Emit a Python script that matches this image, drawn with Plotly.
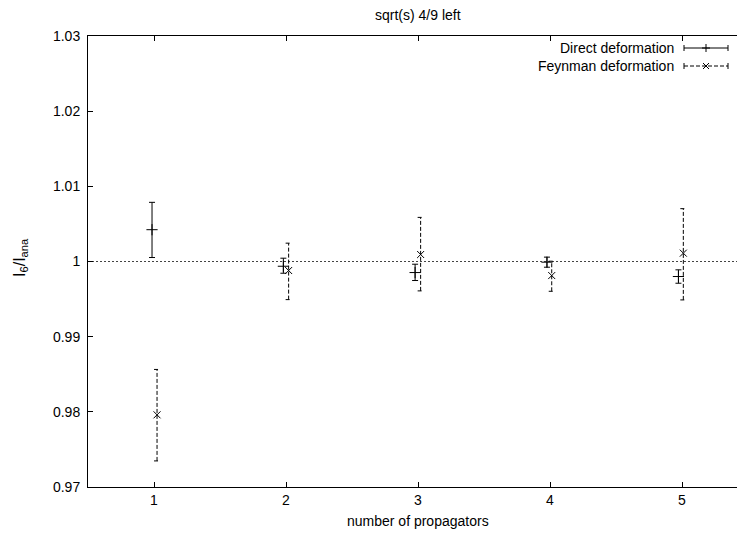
import plotly.graph_objects as go

# ---- data ----
props = [1, 2, 3, 4, 5]
direct_x = [0.985, 1.98, 2.978, 3.977, 4.973]
direct_y = [1.00423, 0.99937, 0.99853, 0.99991, 0.99800]
direct_lo = [1.00053, 0.99844, 0.99747, 0.99924, 0.99711]
direct_hi = [1.00787, 1.00044, 0.99964, 1.00058, 0.99889]

feyn_x = [1.023, 2.02, 3.02, 4.013, 5.01]
feyn_y = [0.97960, 0.99880, 1.00093, 0.99813, 1.00111]
feyn_lo = [0.97347, 0.99493, 0.99609, 0.99604, 0.99489]
feyn_hi = [0.98564, 1.00244, 1.00587, 1.00004, 1.00703]

ytick_vals = [0.97, 0.98, 0.99, 1.0, 1.01, 1.02, 1.03]
ytick_text = ["0.97", "0.98", "0.99", "1", "1.01", "1.02", "1.03"]
xtick_vals = [1, 2, 3, 4, 5]
xtick_text = ["1", "2", "3", "4", "5"]

title = "sqrt(s) 4/9 left"
xlabel = "number of propagators"
ylabel = "I<sub>6</sub>/I<sub>ana</sub>"
names = ["Direct deformation", "Feynman deformation"]

# ---- layout geometry (pixels) ----
W, H = 737, 536
L, R, T, B = 88, 0, 36, 49
pw, ph = W - L - R, H - T - B
px_per_x = 132.0
xr = [0.5, 0.5 + pw / px_per_x]
yr = [0.97, 1.03]
FONT = "Liberation Sans, Arial, sans-serif"
FS = 14
DASH = "4px,2px"

def pxx(p):
    return (p - L) / pw

def pxy(p):
    return (H - B - p) / ph

fig = go.Figure()

# reference line y = 1
fig.add_trace(go.Scatter(x=xr, y=[1, 1], mode="lines",
                         line=dict(color="#444444", width=1, dash="2px,2px"),
                         showlegend=False, hoverinfo="skip"))

# direct deformation: solid error bars with caps
fig.add_trace(go.Scatter(
    x=direct_x, y=direct_y, mode="markers",
    marker=dict(symbol="cross-thin", size=8, line=dict(color="black", width=1)),
    error_y=dict(type="data", symmetric=False,
                 array=[h - y for h, y in zip(direct_hi, direct_y)],
                 arrayminus=[y - l for l, y in zip(direct_lo, direct_y)],
                 color="black", thickness=1, width=3),
    showlegend=False))

# feynman deformation: dashed error bars
cap = 3 / px_per_x
ex, ey = [], []
for x, lo, hi in zip(feyn_x, feyn_lo, feyn_hi):
    ex += [x, x, None, x - cap, x + cap, None, x - cap, x + cap, None]
    ey += [lo, hi, None, lo, lo, None, hi, hi, None]
fig.add_trace(go.Scatter(x=ex, y=ey, mode="lines",
                         line=dict(color="black", width=1, dash=DASH),
                         showlegend=False, hoverinfo="skip"))
fig.add_trace(go.Scatter(
    x=feyn_x, y=feyn_y, mode="markers",
    marker=dict(symbol="x-thin", size=7, line=dict(color="black", width=1)),
    showlegend=False))

# ---- manual legend (gnuplot style: text then sample) ----
shapes = []
annos = []
leg_rows = [48, 66]
sx0, sx1 = 684, 728
for i, (name, yy) in enumerate(zip(names, leg_rows)):
    annos.append(dict(x=pxx(676), y=pxy(yy), xref="paper", yref="paper",
                      text=name, showarrow=False, xanchor="right", yanchor="middle",
                      font=dict(family=FONT, size=FS, color="black")))
    dash = "solid" if i == 0 else DASH
    shapes.append(dict(type="line", xref="paper", yref="paper",
                       x0=pxx(sx0), x1=pxx(sx1), y0=pxy(yy), y1=pxy(yy),
                       line=dict(color="black", width=1, dash=dash)))
    for sx in (sx0, sx1):
        shapes.append(dict(type="line", xref="paper", yref="paper",
                           x0=pxx(sx), x1=pxx(sx), y0=pxy(yy - 3), y1=pxy(yy + 3),
                           line=dict(color="black", width=1)))
    cx = (sx0 + sx1) / 2
    if i == 0:
        shapes.append(dict(type="line", xref="paper", yref="paper",
                           x0=pxx(cx - 4), x1=pxx(cx + 4), y0=pxy(yy), y1=pxy(yy),
                           line=dict(color="black", width=1)))
        shapes.append(dict(type="line", xref="paper", yref="paper",
                           x0=pxx(cx), x1=pxx(cx), y0=pxy(yy - 4), y1=pxy(yy + 4),
                           line=dict(color="black", width=1)))
    else:
        for d in (1, -1):
            shapes.append(dict(type="line", xref="paper", yref="paper",
                               x0=pxx(cx - 3), x1=pxx(cx + 3),
                               y0=pxy(yy - 3 * d), y1=pxy(yy + 3 * d),
                               line=dict(color="black", width=1)))

# titles
annos.append(dict(x=3, y=pxy(15), xref="x", yref="paper", text=title, showarrow=False,
                  xanchor="center", yanchor="middle",
                  font=dict(family=FONT, size=FS, color="black")))
annos.append(dict(x=3, y=pxy(521), xref="x", yref="paper", text=xlabel, showarrow=False,
                  xanchor="center", yanchor="middle",
                  font=dict(family=FONT, size=FS, color="black")))
annos.append(dict(x=pxx(20), y=pxy(258), xref="paper", yref="paper", text=ylabel,
                  showarrow=False, textangle=-90, xanchor="center", yanchor="middle",
                  font=dict(family=FONT, size=16, color="black")))

fig.update_layout(
    width=W, height=H,
    margin=dict(l=L, r=R, t=T, b=B, pad=0),
    paper_bgcolor="white", plot_bgcolor="white",
    showlegend=False,
    font=dict(family=FONT, size=FS, color="black"),
    shapes=shapes, annotations=annos,
    xaxis=dict(range=xr, tickvals=xtick_vals, ticktext=xtick_text,
               ticks="inside", ticklen=5, tickcolor="black", tickwidth=1,
               showline=True, linecolor="black", linewidth=1, mirror="ticks",
               showgrid=False, zeroline=False, fixedrange=True),
    yaxis=dict(range=yr, tickvals=ytick_vals, ticktext=ytick_text,
               ticks="inside", ticklen=5, tickcolor="black", tickwidth=1,
               showline=True, linecolor="black", linewidth=1, mirror=False,
               showgrid=False, zeroline=False, fixedrange=True,
               ticklabelstandoff=4),
)

fig.write_html("out.html")
